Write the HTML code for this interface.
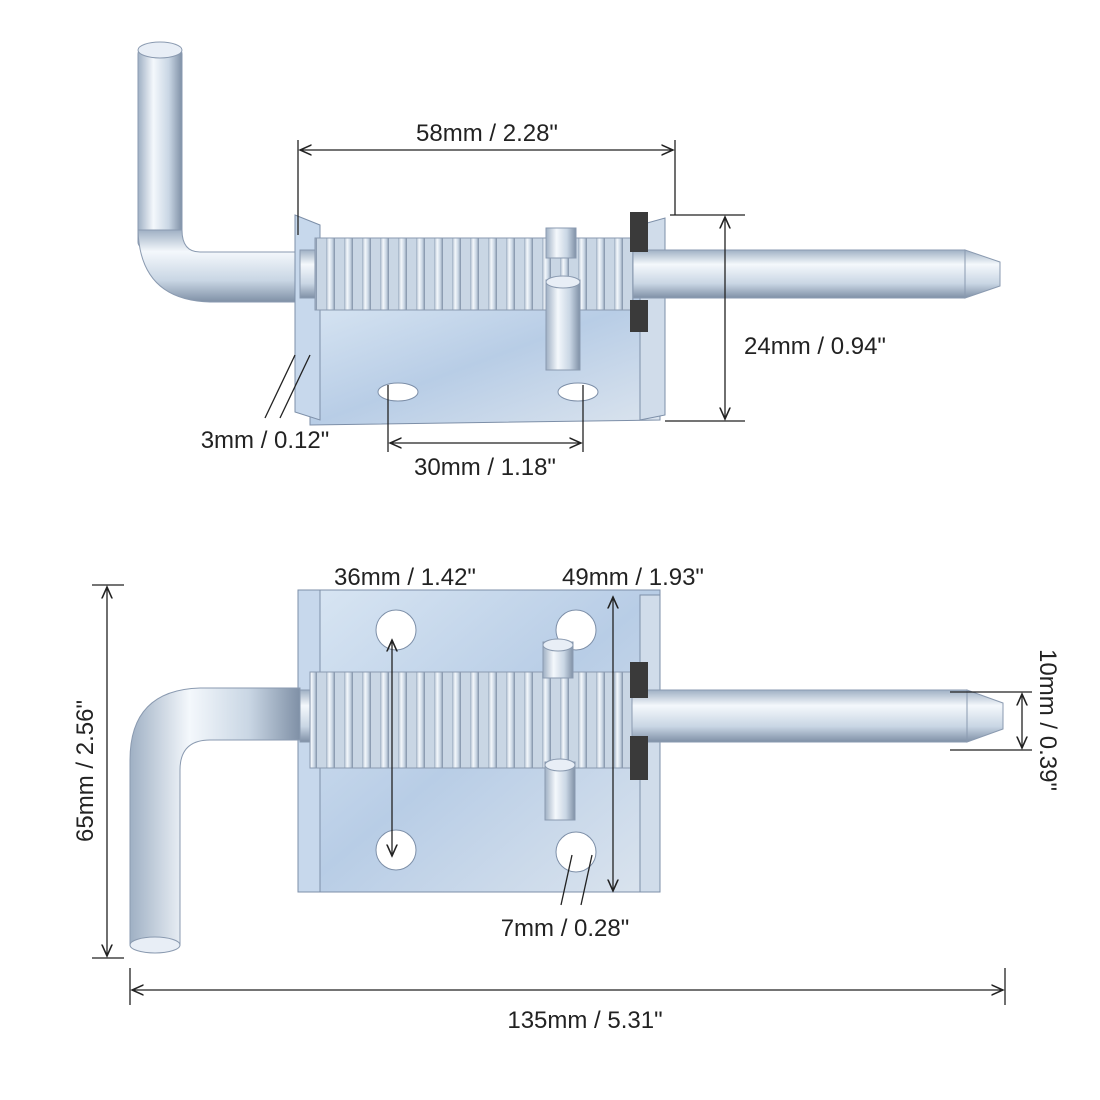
<!DOCTYPE html>
<html><head><meta charset="utf-8"><style>
html,body{margin:0;padding:0;background:#fff;}
svg{display:block;}
text{font-family:"Liberation Sans",Arial,sans-serif;font-size:24px;fill:#222;}
</style></head><body>
<svg width="1100" height="1100" viewBox="0 0 1100 1100" xmlns="http://www.w3.org/2000/svg">
<defs>
<linearGradient id="rodH" x1="0" y1="0" x2="0" y2="1">
<stop offset="0" stop-color="#9fb0c4"/><stop offset="0.3" stop-color="#f4f8fc"/><stop offset="0.7" stop-color="#c9d6e4"/><stop offset="1" stop-color="#7f90a6"/></linearGradient>
<linearGradient id="rodV" x1="0" y1="0" x2="1" y2="0">
<stop offset="0" stop-color="#9fb0c4"/><stop offset="0.35" stop-color="#f4f8fc"/><stop offset="0.7" stop-color="#c9d6e4"/><stop offset="1" stop-color="#7f90a6"/></linearGradient>
<linearGradient id="plate" x1="0" y1="0" x2="1" y2="1">
<stop offset="0" stop-color="#d9e6f3"/><stop offset="0.5" stop-color="#b8cde6"/><stop offset="1" stop-color="#dbe4ee"/></linearGradient>
<pattern id="spring" width="18" height="100" patternUnits="userSpaceOnUse">
<rect width="18" height="100" fill="#c9d6e4"/>
<rect x="2" width="9" height="100" fill="url(#rodV)"/>
</pattern>
<marker id="ar" markerWidth="10" markerHeight="10" refX="9" refY="5" orient="auto-start-reverse"><path d="M0,1 L9,5 L0,9" fill="none" stroke="#222" stroke-width="1.2"/></marker>
</defs>

<rect x="138" y="48" width="44" height="200" rx="6" fill="url(#rodV)" stroke="#8a9ab0"/>
<ellipse cx="160" cy="50" rx="22" ry="8" fill="#e8eef6" stroke="#8a9ab0"/>
<path d="M138,230 Q140,300 210,302 L300,302 L300,252 L200,252 Q182,252 182,230 Z" fill="url(#rodH)" stroke="#8a9ab0"/>
<path d="M310,300 L660,295 L660,420 L310,425 Z" fill="url(#plate)" stroke="#7d8fa8"/>
<path d="M295,215 L320,225 L320,420 L295,412 Z" fill="#c7d8ec" stroke="#7d8fa8"/>
<path d="M640,225 L665,218 L665,415 L640,420 Z" fill="#d0dcea" stroke="#7d8fa8"/>
<ellipse cx="398" cy="392" rx="20" ry="9" fill="#fff" stroke="#7d8fa8"/>
<ellipse cx="578" cy="392" rx="20" ry="9" fill="#fff" stroke="#7d8fa8"/>
<rect x="300" y="250" width="665" height="48" fill="url(#rodH)" stroke="#8a9ab0"/>
<path d="M965,250 L1000,262 L1000,286 L965,298 Z" fill="url(#rodH)" stroke="#8a9ab0"/>
<rect x="315" y="238" width="318" height="72" fill="url(#spring)" stroke="#8a9ab0"/>
<rect x="630" y="212" width="18" height="40" fill="#3a3a3a"/>
<rect x="630" y="300" width="18" height="32" fill="#3a3a3a"/>
<rect x="546" y="228" width="30" height="30" fill="url(#rodV)" stroke="#8a9ab0"/>
<rect x="546" y="280" width="34" height="90" fill="url(#rodV)" stroke="#8a9ab0"/>
<ellipse cx="563" cy="282" rx="17" ry="6" fill="#e8eef6" stroke="#8a9ab0"/>

<g stroke="#222" stroke-width="1.3" fill="none">
<line x1="298" y1="140" x2="298" y2="235"/><line x1="675" y1="140" x2="675" y2="215"/>
<line x1="300" y1="150" x2="673" y2="150" marker-start="url(#ar)" marker-end="url(#ar)"/>
<line x1="670" y1="215" x2="745" y2="215"/><line x1="665" y1="421" x2="745" y2="421"/>
<line x1="725" y1="217" x2="725" y2="419" marker-start="url(#ar)" marker-end="url(#ar)"/>
<line x1="265" y1="418" x2="295" y2="355"/><line x1="280" y1="418" x2="310" y2="355"/>
<line x1="388" y1="385" x2="388" y2="452"/><line x1="583" y1="385" x2="583" y2="452"/>
<line x1="390" y1="443" x2="581" y2="443" marker-start="url(#ar)" marker-end="url(#ar)"/>
</g>
<text x="487" y="141" text-anchor="middle">58mm / 2.28"</text>
<text x="815" y="354" text-anchor="middle">24mm / 0.94"</text>
<text x="265" y="448" text-anchor="middle">3mm / 0.12"</text>
<text x="485" y="475" text-anchor="middle">30mm / 1.18"</text>

<path d="M298,590 L660,590 L660,892 L298,892 Z" fill="url(#plate)" stroke="#7d8fa8"/>
<rect x="298" y="590" width="22" height="302" fill="#c7d8ec" stroke="#7d8fa8"/>
<rect x="640" y="595" width="20" height="297" fill="#d0dcea" stroke="#7d8fa8"/>
<circle cx="396" cy="630" r="20" fill="#fff" stroke="#7d8fa8"/>
<circle cx="576" cy="630" r="20" fill="#fff" stroke="#7d8fa8"/>
<circle cx="396" cy="850" r="20" fill="#fff" stroke="#7d8fa8"/>
<circle cx="576" cy="852" r="20" fill="#fff" stroke="#7d8fa8"/>
<path d="M130,945 L130,760 Q130,690 200,688 L300,688 L300,740 L210,740 Q180,740 180,770 L180,945 Z" fill="url(#rodV)" stroke="#8a9ab0"/>
<ellipse cx="155" cy="945" rx="25" ry="8" fill="#e8eef6" stroke="#8a9ab0"/>
<rect x="300" y="690" width="667" height="52" fill="url(#rodH)" stroke="#8a9ab0"/>
<path d="M967,690 L1003,703 L1003,729 L967,742 Z" fill="url(#rodH)" stroke="#8a9ab0"/>
<rect x="310" y="672" width="322" height="96" fill="url(#spring)" stroke="#8a9ab0"/>
<rect x="630" y="662" width="18" height="36" fill="#3a3a3a"/>
<rect x="630" y="736" width="18" height="44" fill="#3a3a3a"/>
<rect x="543" y="642" width="30" height="36" fill="url(#rodV)" stroke="#8a9ab0"/>
<ellipse cx="558" cy="645" rx="15" ry="6" fill="#e8eef6" stroke="#8a9ab0"/>
<rect x="545" y="762" width="30" height="58" fill="url(#rodV)" stroke="#8a9ab0"/>
<ellipse cx="560" cy="765" rx="15" ry="6" fill="#e8eef6" stroke="#8a9ab0"/>

<g stroke="#222" stroke-width="1.3" fill="none">
<line x1="392" y1="640" x2="392" y2="856" marker-start="url(#ar)" marker-end="url(#ar)"/>
<line x1="613" y1="597" x2="613" y2="891" marker-start="url(#ar)" marker-end="url(#ar)"/>
<line x1="92" y1="585" x2="124" y2="585"/><line x1="92" y1="958" x2="124" y2="958"/>
<line x1="107" y1="587" x2="107" y2="956" marker-start="url(#ar)" marker-end="url(#ar)"/>
<line x1="950" y1="692" x2="1032" y2="692"/><line x1="950" y1="750" x2="1032" y2="750"/>
<line x1="1022" y1="694" x2="1022" y2="748" marker-start="url(#ar)" marker-end="url(#ar)"/>
<line x1="561" y1="905" x2="572" y2="855"/><line x1="581" y1="905" x2="592" y2="855"/>
<line x1="130" y1="968" x2="130" y2="1005"/><line x1="1005" y1="968" x2="1005" y2="1005"/>
<line x1="132" y1="990" x2="1003" y2="990" marker-start="url(#ar)" marker-end="url(#ar)"/>
</g>
<text x="405" y="585" text-anchor="middle">36mm / 1.42"</text>
<text x="633" y="585" text-anchor="middle">49mm / 1.93"</text>
<text transform="translate(93,771) rotate(-90)" text-anchor="middle">65mm / 2.56"</text>
<text transform="translate(1040,720) rotate(90)" text-anchor="middle">10mm / 0.39"</text>
<text x="565" y="936" text-anchor="middle">7mm / 0.28"</text>
<text x="585" y="1028" text-anchor="middle">135mm / 5.31"</text>
</svg>
</body></html>
